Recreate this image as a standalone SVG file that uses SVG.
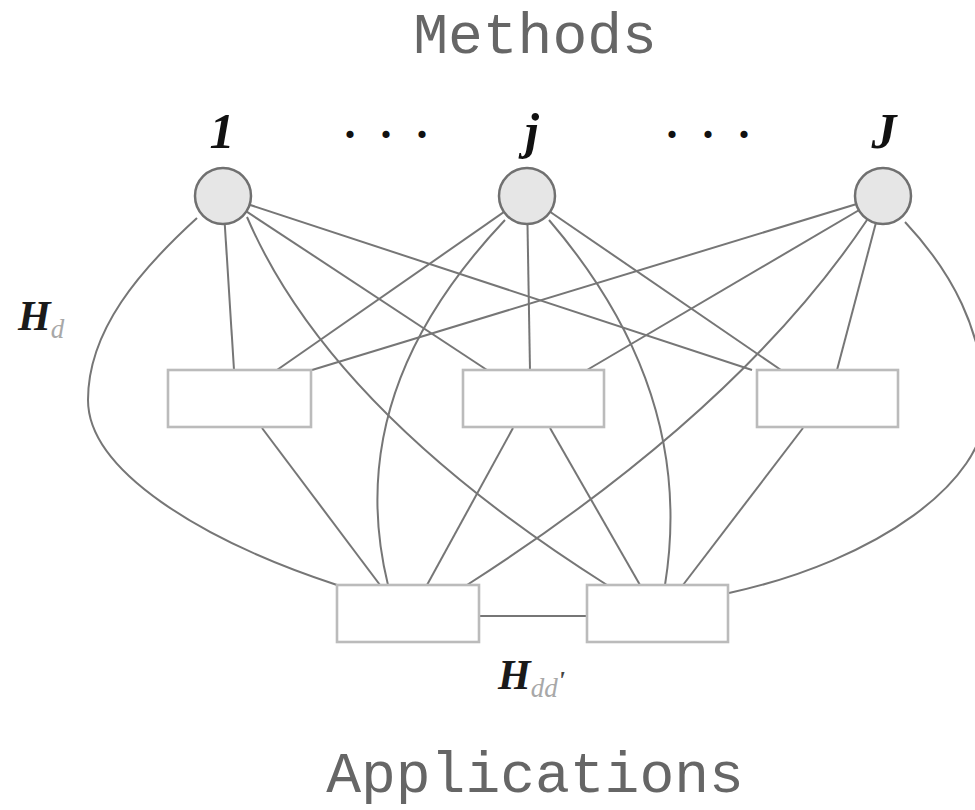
<svg xmlns="http://www.w3.org/2000/svg" width="975" height="810" viewBox="0 0 975 810">
  <style>
    .edge { fill: none; stroke: #767676; stroke-width: 2; }
    .method circle { fill: #e6e6e6; stroke: #707070; stroke-width: 2.5; }
    .app rect { fill: #ffffff; stroke: #bbbbbb; stroke-width: 2.6; }
    .title { font-family: "Liberation Mono", "Courier New", monospace; font-size: 58px; fill: #666666; text-anchor: middle; }
    .idx { font-family: "Liberation Serif", "Times New Roman", serif; font-style: italic; font-weight: bold; font-size: 50px; fill: #111; text-anchor: middle; }
    .dots { font-family: "Liberation Serif", "Times New Roman", serif; font-weight: bold; font-size: 44px; fill: #111; text-anchor: middle; }
    .h { font-family: "Liberation Serif", "Times New Roman", serif; font-style: italic; font-weight: bold; font-size: 42px; fill: #1a1a1a; }
    .sub { font-size: 27px; font-weight: normal; fill: #a8a8a8; }
    .prime { font-size: 26px; font-weight: bold; fill: #444; }
  </style>

  <!-- titles -->
  <text class="title" x="535" y="53">Methods</text>
  <text class="title" x="535" y="792">Applications</text>

  <!-- connectors -->
  <g id="connectors">
    <!-- method 1 -->
    <line class="edge" x1="223" y1="196" x2="234" y2="370"/>
    <line class="edge" x1="223" y1="196" x2="487" y2="370"/>
    <line class="edge" x1="223" y1="196" x2="752" y2="370"/>
    <path class="edge" d="M197,218 C140,270 88,330 88,400 C88,470 200,540 337,585"/>
    <path class="edge" d="M247,217 Q330,410 607,585"/>
    <!-- method j -->
    <line class="edge" x1="527" y1="196" x2="277" y2="370"/>
    <line class="edge" x1="527" y1="196" x2="530" y2="370"/>
    <line class="edge" x1="527" y1="196" x2="781" y2="370"/>
    <path class="edge" d="M505,220 C420,310 350,430 388,585"/>
    <path class="edge" d="M549,220 C626,310 690,430 665,585"/>
    <!-- method J -->
    <line class="edge" x1="883" y1="196" x2="312" y2="370"/>
    <line class="edge" x1="883" y1="196" x2="587" y2="370"/>
    <line class="edge" x1="883" y1="196" x2="837" y2="370"/>
    <path class="edge" d="M867,220 Q740,410 467,585"/>
    <path class="edge" d="M905,222 C950,270 985,330 985,410 C985,480 880,560 729,593"/>
    <!-- middle applications to bottom applications -->
    <line class="edge" x1="262" y1="428" x2="380" y2="585"/>
    <line class="edge" x1="513" y1="428" x2="427" y2="585"/>
    <line class="edge" x1="550" y1="428" x2="640" y2="585"/>
    <line class="edge" x1="803" y1="428" x2="683" y2="585"/>
    <!-- link between the two bottom applications -->
    <line class="edge" x1="480" y1="616" x2="587" y2="616" stroke="#bbbbbb"/>
  </g>

  <!-- method nodes -->
  <g id="method-1" class="method">
    <circle cx="223" cy="196" r="28"/>
    <text class="idx" x="222" y="148">1</text>
  </g>
  <g id="method-j" class="method">
    <circle cx="527" cy="196" r="28"/>
    <text class="idx" x="532" y="148">j</text>
  </g>
  <g id="method-J" class="method">
    <circle cx="883" cy="196" r="28"/>
    <text class="idx" x="884" y="148">J</text>
  </g>

  <!-- ellipses between methods -->
  <text class="dots" x="350 386 422" y="138">...</text>
  <text class="dots" x="672 708 744" y="138">...</text>

  <!-- application nodes -->
  <g id="app-mid-left" class="app"><rect x="168" y="370" width="143" height="57"/></g>
  <g id="app-mid-center" class="app"><rect x="463" y="370" width="141" height="57"/></g>
  <g id="app-mid-right" class="app"><rect x="757" y="370" width="141" height="57"/></g>
  <g id="app-bottom-left" class="app"><rect x="337" y="585" width="142" height="57"/></g>
  <g id="app-bottom-right" class="app"><rect x="587" y="585" width="141" height="57"/></g>

  <!-- edge labels -->
  <text class="h" x="18" y="330">H<tspan class="sub" dy="8">d</tspan></text>
  <text class="h" x="498" y="689">H<tspan class="sub" dy="8">dd</tspan><tspan class="prime" dy="-8">'</tspan></text>
</svg>
